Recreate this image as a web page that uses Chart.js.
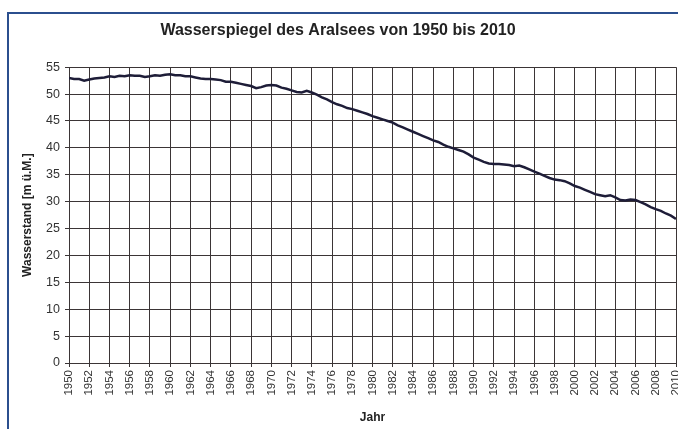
<!DOCTYPE html>
<html>
<head>
<meta charset="utf-8">
<script src="https://cdn.jsdelivr.net/npm/chart.js@4/dist/chart.umd.min.js"></script>
<style>
  html, body { margin: 0; padding: 0; background: #fff; }
  #wrap { position: relative; width: 678px; height: 429px; }
  #frame { position: absolute; left: 7px; top: 12px; width: 700px; height: 450px;
           border-left: 2px solid #2b4f8e; border-top: 2px solid #2b4f8e; pointer-events: none; }
  canvas { position: absolute; left: 0; top: 0; }
</style>
</head>
<body>
<div id="wrap">
  <canvas id="c" width="678" height="429"></canvas>
  <div id="frame"></div>
</div>
<script>
const chartTitle = "Wasserspiegel des Aralsees von 1950 bis 2010";
const yAxisTitle = "Wasserstand [m ü.M.]";
const xAxisTitle = "Jahr";

const years = [
  1950, 1950.5, 1951, 1951.5, 1952, 1952.5, 1953, 1953.5, 1954, 1954.5,
  1955, 1955.5, 1956, 1956.5, 1957, 1957.5, 1958, 1958.5, 1959, 1959.5,
  1960, 1960.5, 1961, 1961.5, 1962, 1962.5, 1963, 1963.5, 1964, 1964.5,
  1965, 1965.5, 1966, 1966.5, 1967, 1967.5, 1968, 1968.5, 1969, 1969.5,
  1970, 1970.5, 1971, 1971.5, 1972, 1972.5, 1973, 1973.5, 1974, 1974.5,
  1975, 1975.5, 1976, 1976.5, 1977, 1977.5, 1978, 1978.5, 1979, 1979.5,
  1980, 1980.5, 1981, 1981.5, 1982, 1982.5, 1983, 1983.5, 1984, 1984.5,
  1985, 1985.5, 1986, 1986.5, 1987, 1987.5, 1988, 1988.5, 1989, 1989.5,
  1990, 1990.5, 1991, 1991.5, 1992, 1992.5, 1993, 1993.5, 1994, 1994.5,
  1995, 1995.5, 1996, 1996.5, 1997, 1997.5, 1998, 1998.5, 1999, 1999.5,
  2000, 2000.5, 2001, 2001.5, 2002, 2002.5, 2003, 2003.5, 2004, 2004.5,
  2005, 2005.5, 2006, 2006.5, 2007, 2007.5, 2008, 2008.5, 2009, 2009.5,
  2010
];
const levels = [
  53.0, 52.8, 52.8, 52.5, 52.7, 52.9, 53.0, 53.1, 53.3, 53.2,
  53.4, 53.3, 53.5, 53.4, 53.4, 53.2, 53.3, 53.5, 53.4, 53.6,
  53.7, 53.5, 53.5, 53.3, 53.3, 53.1, 52.9, 52.8, 52.8, 52.7,
  52.6, 52.3, 52.3, 52.1, 51.9, 51.7, 51.5, 51.1, 51.3, 51.6,
  51.7, 51.6, 51.2, 51.0, 50.7, 50.4, 50.3, 50.6, 50.3, 49.9,
  49.4, 49.0, 48.5, 48.1, 47.8, 47.4, 47.2, 46.9, 46.6, 46.3,
  45.9, 45.6, 45.3, 45.0, 44.7, 44.2, 43.8, 43.4, 43.0, 42.6,
  42.2, 41.8, 41.4, 41.1, 40.6, 40.2, 39.9, 39.6, 39.3, 38.8,
  38.2, 37.8, 37.4, 37.1, 37.0, 37.0, 36.9, 36.8, 36.6, 36.7,
  36.4, 36.0, 35.6, 35.2, 34.8, 34.4, 34.1, 34.0, 33.8, 33.4,
  32.9, 32.6, 32.2, 31.8, 31.4, 31.2, 31.0, 31.2, 30.8, 30.3,
  30.2, 30.4, 30.3, 29.9, 29.5, 29.0, 28.6, 28.3, 27.8, 27.4,
  26.8
];
const xMin = 1950, xMax = 2010, xStep = 2;
const yMin = 0, yMax = 55, yStep = 5;

const points = years.map((y, i) => ({ x: y, y: levels[i] }));
const FONT = "'Liberation Sans', Arial, sans-serif";
const gridColor = '#3b3536';

new Chart(document.getElementById('c'), {
  type: 'line',
  data: { datasets: [{
    data: points,
    borderColor: '#1e1d38',
    borderWidth: 2.5,
    pointRadius: 0,
    tension: 0,
    fill: false
  }]},
  options: {
    responsive: false,
    animation: false,
    devicePixelRatio: 1,
    layout: { padding: { left: 0, right: 2, top: 0, bottom: 0 } },
    plugins: {
      legend: { display: false },
      tooltip: { enabled: false },
      title: {
        display: true, text: chartTitle, color: '#222',
        font: { family: FONT, size: 16, weight: 'bold' },
        padding: { top: 21, bottom: 27 }
      }
    },
    scales: {
      x: {
        type: 'linear', min: xMin, max: xMax,
        ticks: {
          stepSize: xStep, autoSkip: false, maxRotation: 90, minRotation: 90,
          color: '#333', font: { family: FONT, size: 11.5 }, padding: 3,
          callback: v => String(v)
        },
        grid: { color: gridColor, lineWidth: 1, tickLength: 4, drawTicks: true },
        border: { color: gridColor, width: 1 },
        title: { display: true, text: xAxisTitle, color: '#222',
                 font: { family: FONT, size: 12, weight: 'bold' }, padding: { top: 8, bottom: 4 } },
        afterFit: s => { s.height = 66; s.paddingLeft = 0; s.paddingRight = 0; }
      },
      y: {
        min: yMin, max: yMax,
        ticks: { stepSize: yStep, color: '#333', font: { family: FONT, size: 12.5 }, padding: 5 },
        grid: { color: gridColor, lineWidth: 1, tickLength: 4 },
        border: { color: gridColor, width: 1 },
        title: { display: true, text: yAxisTitle, color: '#222',
                 font: { family: FONT, size: 12, weight: 'bold' }, padding: { top: 20, bottom: 4 } },
        afterFit: s => { s.width = 69; }
      }
    }
  }
});
</script>
</body>
</html>
